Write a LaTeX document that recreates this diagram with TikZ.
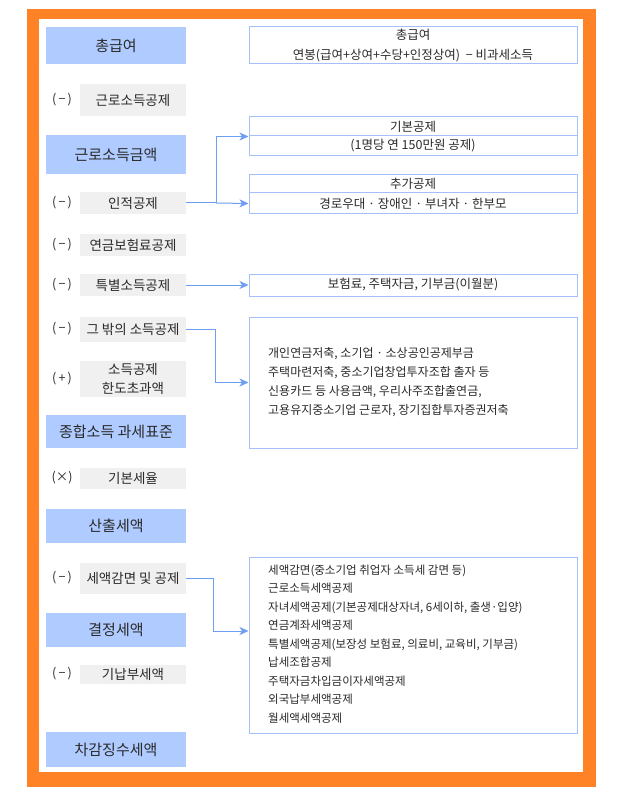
\documentclass[tikz,border=0pt]{standalone}
\usepackage{fontspec}
\setmainfont{Noto Sans CJK KR}
\usetikzlibrary{arrows.meta,calc}
\definecolor{frameor}{HTML}{FF8227}
\definecolor{bluefill}{HTML}{AFCBFF}
\definecolor{grayfill}{HTML}{F0F0F0}
\definecolor{boxline}{HTML}{A3C1F7}
\definecolor{arrline}{HTML}{6E9EF2}
\definecolor{txt}{HTML}{2A2A2A}
\tikzset{
  bluebox/.style={fill=bluefill, draw=none, minimum width=140, inner sep=0, text=txt, font=\fontsize{15}{17}\selectfont},
  graybox/.style={fill=grayfill, draw=none, minimum width=106, inner sep=0, text=txt, font=\fontsize{13.5}{19}\selectfont, align=center},
  oplabel/.style={inner sep=0, text=txt, font=\fontsize{12.5}{14}\selectfont},
  rbox/.style={draw=boxline, line width=1pt, fill=white, minimum width=328, inner sep=0, text=txt, font=\fontsize{12.5}{20}\selectfont, align=center},
  ltext/.style={inner sep=0, anchor=west, align=left, text=txt},
  arr/.style={draw=arrline, line width=1pt, -{Stealth[length=9pt,width=8pt,inset=2.5pt]}},
  conn/.style={draw=arrline, line width=1pt}
}
\begin{document}
\begin{tikzpicture}[x=1pt,y={(0pt,-1pt)}]
\useasboundingbox (0,0) rectangle (630,799);
% frame
\fill[frameor] (27,9) rectangle (596,787);
\fill[white] (39,19) rectangle (583,772);

% left column: blue boxes
\node[bluebox, minimum height=37] (tg) at (116,45.5) {총급여};
\node[bluebox, minimum height=39] (gsa) at (116,154.5) {근로소득금액};
\node[bluebox, minimum height=33] (gbp) at (116,431.5) {종합소득 과세표준};
\node[bluebox, minimum height=34] (scs) at (116,526) {산출세액};
\node[bluebox, minimum height=34] (gjs) at (116,630) {결정세액};
\node[bluebox, minimum height=35] (cgs) at (116,749.5) {차감징수세액};

% gray boxes
\node[graybox, minimum height=32] (ggj) at (133,100) {근로소득공제};
\node[graybox, minimum height=22] (ijg) at (133,203) {인적공제};
\node[graybox, minimum height=22] (ygb) at (133,245) {연금보험료공제};
\node[graybox, minimum height=22] (tbs) at (133,285) {특별소득공제};
\node[graybox, minimum height=25] (gbu) at (133,329.5) {그 밖의 소득공제};
\node[graybox, minimum height=36] (hdc) at (133,379) {소득공제\\한도초과액};
\node[graybox, minimum height=21] (gbs) at (133,478.5) {기본세율};
\node[graybox, minimum height=31] (sgm) at (133,578.5) {세액감면 및 공제};
\node[graybox, minimum height=19] (gnb) at (133,674.5) {기납부세액};

% operator labels
\node[oplabel] (op1) at (62,100) {(\,−\,)};
\node[oplabel] (op2) at (62,203) {(\,−\,)};
\node[oplabel] (op3) at (62,245) {(\,−\,)};
\node[oplabel] (op4) at (62,285) {(\,−\,)};
\node[oplabel] (op5) at (62,329) {(\,−\,)};
\node[oplabel] (op6) at (62,379) {(\,+\,)};
\node[oplabel] (op7) at (62,478) {(×)};
\node[oplabel] (op8) at (62,578) {(\,−\,)};
\node[oplabel] (op9) at (62,674) {(\,−\,)};

% right boxes
\node[rbox, minimum height=37] (rtg) at (413,45.5) {총급여\\연봉(급여+상여+수당+인정상여) \ −\ 비과세소득};
\node[rbox, minimum height=19] (kb1) at (413,126.5) {기본공제};
\node[rbox, minimum height=20] (kb2) at (413,146) {(1명당 연 150만원 공제)};
\node[rbox, minimum height=18] (ch1) at (413,184) {추가공제};
\node[rbox, minimum height=21] (ch2) at (413,203.5) {경로우대 · 장애인 · 부녀자 · 한부모};
\node[rbox, minimum height=22] (bhr) at (413,285) {보험료, 주택자금, 기부금(이월분)};
\node[rbox, minimum height=131] (big) at (413,382.5) {};
\node[rbox, minimum height=176] (bot) at (413,645) {};

\node[ltext, font=\fontsize{12}{19}\selectfont] (bigt) at (268,382) {개인연금저축, 소기업 · 소상공인공제부금\\주택마련저축, 중소기업창업투자조합 출자 등\\신용카드 등 사용금액, 우리사주조합출연금,\\고용유지중소기업 근로자, 장기집합투자증권저축};
\node[ltext, font=\fontsize{11.5}{18.5}\selectfont] (bott) at (268,644) {세액감면(중소기업 취업자 소득세 감면 등)\\근로소득세액공제\\자녀세액공제(기본공제대상자녀, 6세이하, 출생·입양)\\연금계좌세액공제\\특별세액공제(보장성 보험료, 의료비, 교육비, 기부금)\\납세조합공제\\주택자금차입금이자세액공제\\외국납부세액공제\\월세액세액공제};

% connectors
\draw[conn] (ijg.east) -- ++(30,0) coordinate (j1);
\draw[arr] (j1) |- (kb1.south west);
\draw[arr] (j1) -- (ch2.west);
\draw[arr] (tbs.east) -- (bhr.west);
\draw[arr] (gbu.east) -- ++(29,0) |- (big.west);
\draw[arr] (sgm.east) -- ++(27,0) |- ($(bot.west)+(0,-14)$);
\end{tikzpicture}
\end{document}
